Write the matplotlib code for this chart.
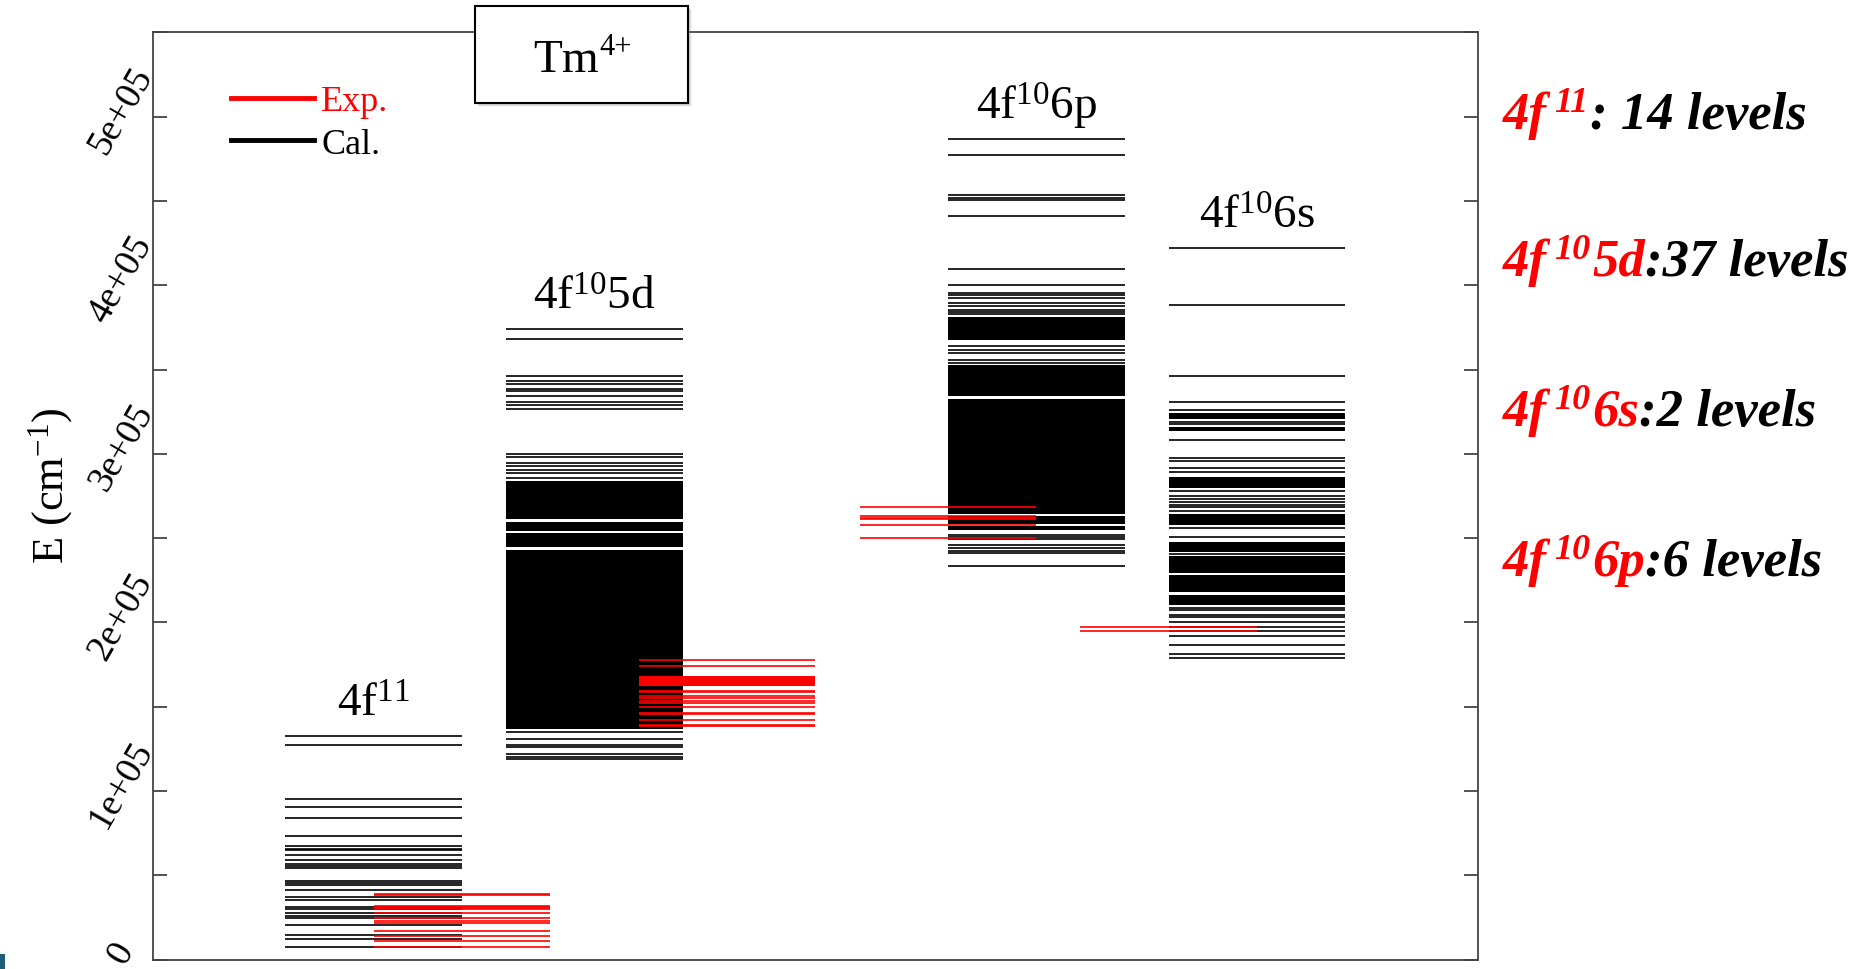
import matplotlib.pyplot as plt
from matplotlib.lines import Line2D
from matplotlib.patches import Rectangle
from matplotlib.ticker import MultipleLocator, FuncFormatter
from matplotlib.transforms import ScaledTranslation

plt.rcParams['font.family'] = ['Liberation Serif', 'DejaVu Serif']
plt.rcParams['mathtext.fontset'] = 'custom'
plt.rcParams['mathtext.rm'] = 'Liberation Serif'
plt.rcParams['mathtext.it'] = 'Liberation Serif:italic'
plt.rcParams['mathtext.bf'] = 'Liberation Serif:bold'

# configurations, column centres for calculated and experimental levels
configs = [r"4f$^{11}$", r"4f$^{10}$5d", r"4f$^{10}$6p", r"4f$^{10}$6s"]
cal_x = [1, 2, 4, 5]
exp_x = [1.4, 2.6, 3.6, 4.6]

# calculated levels (cm-1); dense stretches kept as (low, high) bands
cal_4f11 = [132500, 127300, 95300, 90400, 84200, 73500, 67200, 65500, 64800,
            62100, 59300, 56600, 55500, 54400, 46400, 45300, 44100, 41500,
            37000, 35300, 31000, 30200, 27700, 26200, 25000, 20800, 14650,
            12100, 7500]
cal_4f11_bands = []

cal_5d = [373900, 367900, 346300, 343200, 341500, 338600, 337100, 334500,
          330900, 329000, 326800, 299900, 298300, 294800, 293000, 290400,
          288800, 285500, 134900, 131100, 127200, 125900, 122000, 120200,
          119000]
cal_5d_bands = [(261300, 284100), (254200, 259700), (244600, 252900),
                (136800, 243100)]

cal_6p = [486500, 477200, 453300, 451900, 450700, 441200, 409600, 400300,
          395400, 394000, 392200, 389200, 387700, 385500, 384100, 382700,
          363800, 361600, 359500, 355800, 354000, 252000, 250700, 249400,
          245800, 244300, 242600, 241000, 233500]
cal_6p_bands = [(367700, 381000), (334100, 352700), (264300, 332500),
                (258400, 263300), (255000, 257400)]

cal_6s = [422100, 388400, 346300, 330600, 326000, 319000, 317700, 308200,
          297600, 295700, 291400, 289000, 277800, 274800, 273200, 271600,
          269800, 268300, 266300, 255800, 250500, 240600, 208800, 207300,
          204600, 203000, 200400, 197500, 194900, 192100, 186800, 181300,
          178900]
cal_6s_bands = [(320500, 324200), (313400, 315700), (279700, 286400),
                (257800, 264300), (242000, 247900), (229300, 239200),
                (217900, 228100), (210400, 216300)]

# experimental levels (cm-1)
exp_4f11 = [38700, 38200, 32000, 31400, 30800, 30200, 27700, 24700, 23100,
            21800, 17200, 13900, 11300, 7500]
exp_5d = [177900, 174300, 159600, 158800, 156600, 155200, 153300, 152400,
          150000, 146200, 145500, 142000, 139200, 138500]
exp_5d_bands = [(162100, 168100)]
exp_6p = [268300, 263000, 262100, 261200, 258000, 250300]
exp_6s = [197500, 195100]

cal_levels = [cal_4f11, cal_5d, cal_6p, cal_6s]
cal_bands = [cal_4f11_bands, cal_5d_bands, cal_6p_bands, cal_6s_bands]
exp_levels = [exp_4f11, exp_5d, exp_6p, exp_6s]
exp_bands = [[], exp_5d_bands, [], []]

# side notes: (configuration, superscript, rest of configuration, count text)
notes = [("4f", "11", "", ": 14 levels"),
         ("4f", "10", "5d", ":37 levels"),
         ("4f", "10", "6s", ":2 levels"),
         ("4f", "10", "6p", ":6 levels")]

W, H = 1872, 970
fig = plt.figure(figsize=(W / 100, H / 100), dpi=100)
ax = fig.add_axes([0.0817, 0.0096, 0.7078, 0.9561])


def draw_levels(x, levels, bands, color, z):
    ax.hlines(levels, x - 0.4, x + 0.4, colors=color, lw=1.2, zorder=z)
    for lo, hi in bands:
        ax.bar(x, hi - lo, width=0.8, bottom=lo, color=color, lw=0, zorder=z)


for x, lv, bd, name in zip(cal_x, cal_levels, cal_bands, configs):
    draw_levels(x, lv, bd, 'black', 2)
    ax.text(x, max(lv) + 12000, name, ha='center', va='baseline', fontsize=34)

for x, lv, bd in zip(exp_x, exp_levels, exp_bands):
    draw_levels(x, lv, bd, 'red', 3)

ax.set_xlim(0, 6)
ax.set_ylim(0, 5.5e5)
ax.yaxis.set_major_locator(MultipleLocator(1e5))
ax.yaxis.set_minor_locator(MultipleLocator(5e4))
ax.yaxis.set_major_formatter(FuncFormatter(
    lambda v, p: '0' if v == 0 else '%de+05' % round(v / 1e5)))
ax.tick_params(axis='x', bottom=False, labelbottom=False)
ax.tick_params(axis='y', which='both', direction='in', length=10, width=1.3,
               right=True, color='#444444')
ax.tick_params(axis='y', which='major', labelsize=27, pad=25)
nudge = ScaledTranslation(3 / 100, 7 / 100, fig.dpi_scale_trans)
for lbl in ax.get_yticklabels():
    lbl.set(rotation=60, ha='center', va='center', rotation_mode='anchor')
    lbl.set_transform(lbl.get_transform() + nudge)
for s in ax.spines.values():
    s.set_color('#444444')
    s.set_linewidth(1.3)

ax.set_ylabel(r"E (cm$^{-1}$)", fontsize=32)
ax.yaxis.set_label_coords(-0.059, 0.512)

handles = [Line2D([], [], color='red', lw=3.5), Line2D([], [], color='black', lw=3.5)]
leg = ax.legend(handles, ['Exp.', 'Cal.'], loc='upper left',
                bbox_to_anchor=(0.059, 0.943), frameon=False, fontsize=26,
                handlelength=2.3, handletextpad=0.2, labelspacing=0.25,
                borderpad=0, borderaxespad=0)
leg.get_texts()[0].set_color('red')

renderer = fig.canvas.get_renderer()


def rich_text(x, y, parts, **kw):
    # lay out text pieces one after another; y is the baseline in pixels from the top
    for s, c, fs, rise, gap in parts:
        if not s:
            continue
        t = fig.text(x / W, 1 - (y - rise) / H, s, color=c, fontsize=fs,
                     va='baseline', zorder=6, **kw)
        x += t.get_window_extent(renderer).width + gap


# ion label box with a soft shadow
bx, by, bw, bh = 475 / W, 1 - 104 / H, 213 / W, 97 / H
for i, a in enumerate([0.10, 0.14, 0.20]):
    off = (4 - i) / W, -(4 - i) / H
    fig.add_artist(Rectangle((bx + off[0], by + off[1]), bw, bh,
                             transform=fig.transFigure, facecolor='gray',
                             edgecolor='none', alpha=a, zorder=4))
fig.add_artist(Rectangle((bx, by), bw, bh, transform=fig.transFigure,
                         facecolor='white', edgecolor='black', lw=1.5, zorder=5))
rich_text(533, 72, [("Tm", 'black', 34, 0, 1), ("4+", 'black', 22, 17, 0)])

# level counts to the right of the plot
for y, (a, sup, b, rest) in zip([129, 276, 426, 576], notes):
    rich_text(1503, y, [(a, 'red', 38, 0, 7), (sup, 'red', 26, 17, 2),
                        (b, 'red', 38, 0, 0), (rest, 'black', 38, 0, 0)],
              weight='bold', style='italic')

fig.add_artist(Rectangle((0, 0), 5 / W, 15 / H, transform=fig.transFigure,
                         facecolor='#1b5e75', edgecolor='none'))

fig.savefig('out.png', dpi=100)
